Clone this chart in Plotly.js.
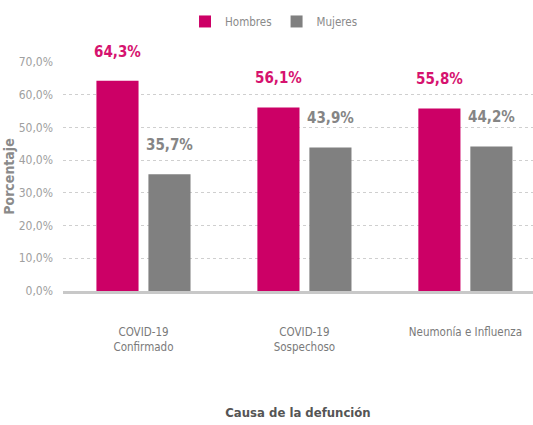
<!DOCTYPE html>
<html>
<head>
<meta charset="utf-8">
<script src="https://cdn.plot.ly/plotly-3.0.1.min.js"></script>
<style>
html,body{margin:0;padding:0;background:#fff;}
#chart{width:533px;height:425px;}
#chart text{font-stretch:condensed;}
</style>
</head>
<body>
<div id="chart"></div>
<script>
var categories = ["COVID-19<br>Confirmado", "COVID-19<br>Sospechoso", "Neumonía e Influenza"];
var hombres = [64.3, 56.1, 55.8];
var mujeres = [35.7, 43.9, 44.2];
var yTicks = [0, 10, 20, 30, 40, 50, 60, 70];

var FONT = "DejaVu Sans Condensed, DejaVu Sans, sans-serif";
var PINK = "#cc0066";
var GRAY = "#808080";

function fmt(v) { return v.toFixed(1).replace(".", ",") + "%"; }

var traces = [
  { type: "bar", name: "Hombres", x: categories, y: hombres, marker: { color: PINK }, hoverinfo: "none" },
  { type: "bar", name: "Mujeres", x: categories, y: mujeres, marker: { color: GRAY }, hoverinfo: "none" }
];

var annotations = [];
categories.forEach(function (c, i) {
  annotations.push({ x: c, y: hombres[i], xref: "x", yref: "y", text: "<b>" + fmt(hombres[i]) + "</b>",
    showarrow: false, xshift: -26, yshift: 29, yanchor: "middle",
    font: { family: FONT, size: 15, color: "#d6136f" } });
  annotations.push({ x: c, y: mujeres[i], xref: "x", yref: "y", text: "<b>" + fmt(mujeres[i]) + "</b>",
    showarrow: false, xshift: 26, yshift: 29, yanchor: "middle",
    font: { family: FONT, size: 15, color: "#858585" } });
});

var layout = {
  width: 533, height: 425,
  margin: { l: 63, r: 0, t: 62, b: 134, pad: 0 },
  paper_bgcolor: "#ffffff", plot_bgcolor: "#ffffff",
  font: { family: FONT, color: GRAY },
  barmode: "group", bargap: 0.354, bargroupgap: 0.19,
  showlegend: true,
  legend: { orientation: "h", x: 0.449, xanchor: "center", y: 1.177, yanchor: "middle",
    font: { family: FONT, size: 11.5, color: "#8a8a8a" }, itemwidth: 30, traceorder: "normal" },
  xaxis: {
    type: "category", range: [-0.5, 2.42], showgrid: false, zeroline: false,
    showline: true, linecolor: "#c8c8c8", linewidth: 3,
    ticks: "", ticklabelstandoff: 28,
    tickfont: { family: FONT, size: 11.5, color: "#7a7a7a" },
    title: { text: "<b>Causa de la defunción</b>", standoff: 56, font: { family: FONT, size: 13, color: "#555555" } }
  },
  yaxis: {
    range: [0, 70], tickvals: yTicks, ticktext: yTicks.map(function (v) { return v.toFixed(1).replace(".", ",") + "%"; }),
    showgrid: true, gridcolor: "#cfcfcf", griddash: "dot", gridwidth: 1, zeroline: false,
    ticks: "", ticklabelstandoff: 9,
    tickfont: { family: FONT, size: 12, color: "#a0a0a0" },
    title: { text: "<b>Porcentaje</b>", standoff: 0, font: { family: "DejaVu Sans, sans-serif", size: 14, color: "#8a8a8a" } }
  },
  annotations: annotations
};

Plotly.newPlot("chart", traces, layout, { displayModeBar: false, staticPlot: true });
</script>
</body>
</html>
